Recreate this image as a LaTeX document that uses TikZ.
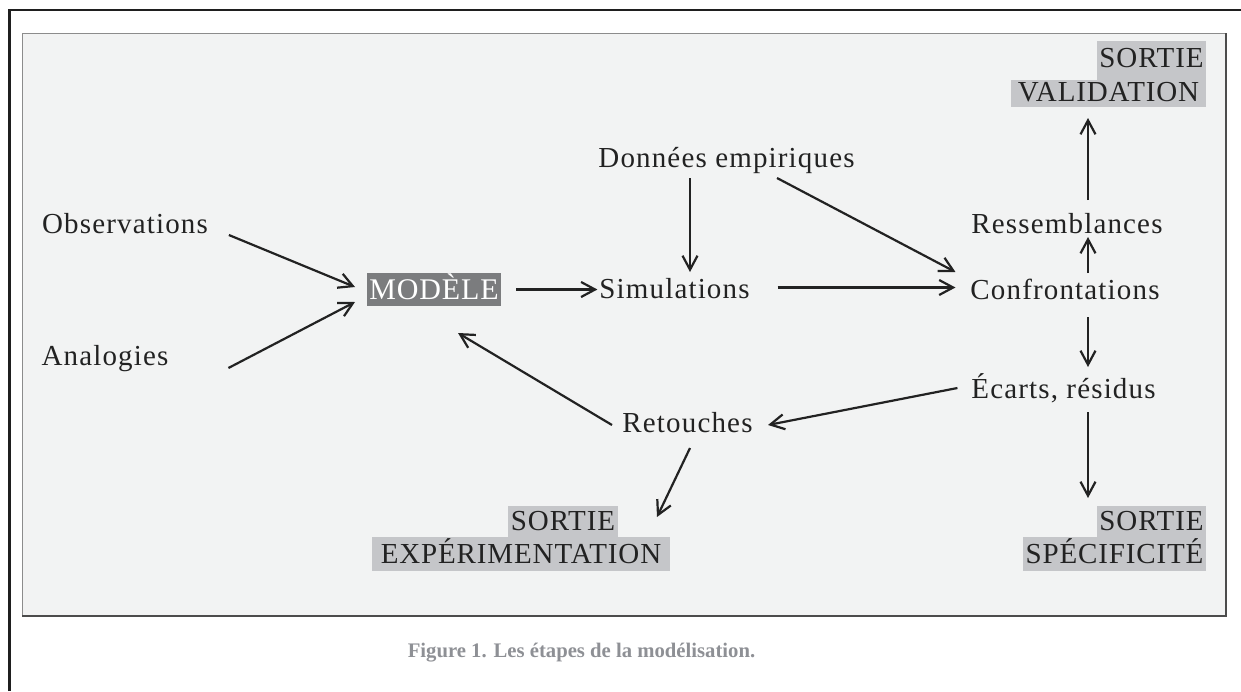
\documentclass[tikz,border=0pt]{standalone}
\usepackage{fontspec}
\setmainfont{Liberation Serif}
\newfontfamily\lblfam[LetterSpace=4]{Liberation Serif}
\newfontfamily\capfam[LetterSpace=3]{Liberation Serif}
\usetikzlibrary{arrows.meta}
\definecolor{ink}{HTML}{222222}
\definecolor{panelbg}{HTML}{F2F3F3}
\definecolor{hl}{HTML}{C5C6C9}
\definecolor{modfill}{HTML}{7B7C7E}
\definecolor{capgray}{HTML}{8E9095}
\definecolor{framedark}{HTML}{1F1F1F}
\definecolor{edgegray}{HTML}{8C8C8C}
\tikzset{
  lbl/.style={inner sep=0pt, outer sep=0pt, text=ink, font=\lblfam\fontsize{29}{29}\selectfont,
    text height=20pt, text depth=5pt, minimum height=25pt},
  outbox/.style={inner sep=0pt, outer sep=0pt, fill=hl, text=ink, font=\capfam\fontsize{29}{29}\selectfont,
    text height=19pt},
  arr/.style={draw=ink, line width=2.2pt, -{Straight Barb[length=14pt,width=15pt,line width=2.2pt]}}
}
\begin{document}
\begin{tikzpicture}[x=1pt,y=-1pt]
\useasboundingbox (0,0) rectangle (1241,691);
% outer frame (top and left visible)
\draw[framedark, line width=2.5pt] (9.5,691) -- (9.5,10) -- (1241,10);
% inner panel
\fill[panelbg] (22,33) rectangle (1226,616);
\draw[edgegray, line width=1.5pt] (22.5,616) -- (22.5,33.5) -- (1226,33.5);
\draw[framedark!80, line width=2pt] (1225.5,33) -- (1225.5,616) -- (22,616);

% text nodes
\node[lbl, minimum width=164pt] (obs) at (125,225.5) {Observations};
\node[lbl, minimum width=126pt] (ana) at (105,357.5) {Analogies};
\node[lbl, minimum width=257pt] (don) at (726.5,159.5) {Données empiriques};
\node[lbl, minimum width=149pt] (sim) at (674.5,290.5) {Simulations};
\node[lbl, minimum width=186pt] (conf) at (1065,291.5) {Confrontations};
\node[lbl, minimum width=192pt] (res) at (1067,225.5) {Ressemblances};
\node[lbl, minimum width=183pt] (eca) at (1063.5,390.5) {Écarts, résidus};
\node[lbl, minimum width=131pt] (ret) at (687.5,424.5) {Retouches};

% MODELE
\node[inner sep=0pt, outer sep=0pt, fill=modfill, text=white, font=\capfam\fontsize{30}{30}\selectfont,
  text height=19pt, text depth=0pt, minimum width=134pt, minimum height=33pt] (mod) at (434,289.5) {MODÈLE};

% SORTIE labels
\node[outbox, text depth=6pt, minimum width=109pt, minimum height=39pt] (sv1) at (1151.5,60.5) {SORTIE};
\node[outbox, text depth=4pt, minimum width=195pt, minimum height=27pt] (sv2) at (1108.5,93.5) {VALIDATION};
\node[outbox, text depth=2pt, minimum width=110pt, minimum height=31pt] (se1) at (563,521.5) {SORTIE};
\node[outbox, text depth=0pt, minimum width=298pt, minimum height=34pt] (se2) at (521,554) {EXPÉRIMENTATION};
\node[outbox, text depth=2pt, minimum width=109pt, minimum height=31pt] (ss1) at (1151.5,521.5) {SORTIE};
\node[outbox, text depth=0pt, minimum width=183pt, minimum height=34pt] (ss2) at (1114.5,554) {SPÉCIFICITÉ};

% caption
\node[inner sep=0pt, anchor=base, text=capgray, font=\bfseries\fontsize{20.7}{24}\selectfont] (cap) at (581.5,657) {Figure 1. Les étapes de la modélisation.};

% connectors
\draw[arr] ([shift={(21,9.5)}]obs.east) -- ([shift={(-12,-2.5)}]mod.west);
\draw[arr] ([shift={(60,10.5)}]ana.east) -- ([shift={(-12,12.5)}]mod.west);
\draw[arr] ([shift={(15,0)}]mod.east) -- ([shift={(-2,-1)}]sim.west);
\draw[arr] ([shift={(-36.5,6)}]don.south) -- ([shift={(15.5,-6)}]sim.north);
\draw[arr] ([shift={(50.5,6)}]don.south) -- ([shift={(-15,-19.5)}]conf.west);
\draw[arr] ([shift={(28,-3)}]sim.east) -- ([shift={(-15,-4)}]conf.west);
\draw[arr] ([shift={(23,-6)}]conf.north) -- ([shift={(21,-1)}]res.south);
\draw[arr] ([shift={(21,-13)}]res.north) -- ([shift={(-20.5,11)}]sv2.south);
\draw[arr] ([shift={(23,13)}]conf.south) -- ([shift={(24.5,-11)}]eca.north);
\draw[arr] ([shift={(24.5,9)}]eca.south) -- ([shift={(-63.5,-8)}]ss1.north);
\draw[arr] ([shift={(-14,-2.5)}]eca.west) -- ([shift={(15,0.5)}]ret.east);
\draw[arr] ([shift={(-10,0.5)}]ret.west) -- ([shift={(24,27)}]mod.south);
\draw[arr] ([shift={(2.5,11)}]ret.south) -- ([shift={(39,-4.5)}]se1.east);
\end{tikzpicture}
\end{document}
